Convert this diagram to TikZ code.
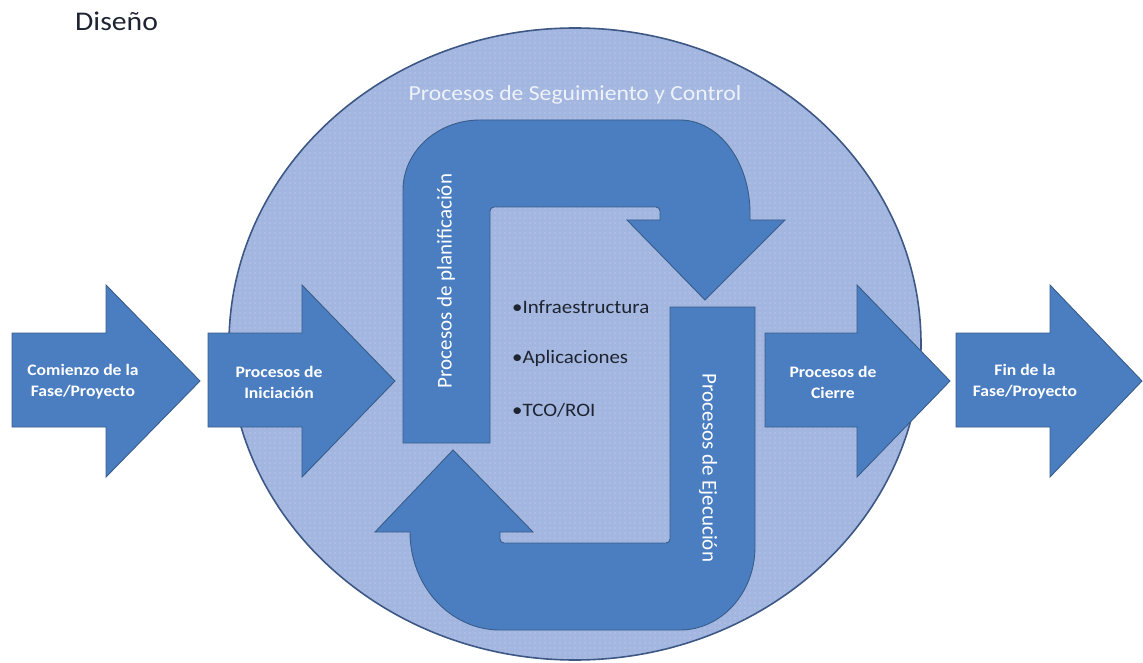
\documentclass[tikz,border=0pt]{standalone}
\usepackage{fontspec}
\setmainfont{Carlito}
\usetikzlibrary{patterns.meta}

\definecolor{shapeblue}{HTML}{4A7EC1}
\definecolor{shapeedge}{HTML}{385D8A}
\definecolor{ringfill}{HTML}{A3B6E0}
\definecolor{ringedge}{HTML}{3E5886}
\definecolor{darktext}{HTML}{1E2430}
\definecolor{softwhite}{HTML}{EEF2FA}

% slightly widened lettering
\newcommand\widen[1]{\scalebox{1.1}[1]{#1}}

% fine dotted texture of the control ring
\tikzdeclarepattern{
  name=softdots,
  type=uncolored,
  bottom left={(-.7pt,-.7pt)},
  top right={(.7pt,.7pt)},
  tile size={(5pt,5pt)},
  code={\fill (0pt,0pt) circle[radius=0.65pt];}
}

\tikzset{
  blockshape/.style={fill=shapeblue, draw=shapeedge, line width=0.9pt, line join=miter},
  arrowlabel/.style={text=white, font=\bfseries\fontsize{16}{21}\selectfont, align=center, inner sep=0pt},
  bandlabel/.style={text=white, font=\fontsize{21}{25}\selectfont, inner sep=0pt},
  bulletitem/.style={text=darktext, font=\fontsize{19}{23}\selectfont, anchor=west, inner sep=0pt},
}

% block arrow pointing right: left edge #1, head base #2, tip #3
\newcommand\blockarrow[3]{%
  \draw[blockshape] (#1,333) -- (#2,333) -- (#2,285) -- (#3,381) -- (#2,477) -- (#2,427) -- (#1,427) -- cycle;}

\begin{document}
\begin{tikzpicture}[x=1pt, y=-1pt]
\useasboundingbox (0,0) rectangle (1143,663);

% control ring
\path[fill=ringfill] (575,344) ellipse[x radius=346, y radius=316];
\path[pattern=softdots, pattern color=white, fill opacity=0.45] (575,344) ellipse[x radius=346, y radius=316];
\draw[ringedge, line width=1.6pt] (575,344) ellipse[x radius=346, y radius=316];

% heading
\node[text=darktext, font=\fontsize{27}{32}\selectfont, anchor=west, inner sep=0pt] (title) at (75,21) {\widen{Diseño}};

\node[text=softwhite, font=\fontsize{21.5}{26}\selectfont, inner sep=0pt] (control) at (575,95) {\widen{Procesos de Seguimiento y Control}};

% block arrows of the phase
\blockarrow{12}{106}{200}
\blockarrow{208}{302}{395}
\blockarrow{765}{857}{950}
\blockarrow{956}{1050}{1142}

\node[arrowlabel] (start) at (83,382) {\widen{Comienzo de la}\\\widen{Fase/Proyecto}};
\node[arrowlabel] (init) at (279,382) {\widen{Procesos de}\\\widen{Iniciación}};
\node[arrowlabel] (close) at (833,382) {\widen{Procesos de}\\\widen{Cierre}};
\node[arrowlabel] (finish) at (1025,382) {\widen{Fin de la}\\\widen{Fase/Proyecto}};

% planning u-turn, heading down
\draw[blockshape] (403,443) -- (403,190)
  arc[start angle=180, end angle=270, x radius=77, y radius=70]
  -- (680,120)
  arc[start angle=270, end angle=360, x radius=70, y radius=93]
  -- (750,220) -- (785,220) -- (705,300) -- (627,220) -- (660,220)
  -- (660,211) arc[start angle=0, end angle=-90, radius=4] -- (494,207)
  arc[start angle=270, end angle=180, radius=4] -- (490,443) -- cycle;

% execution u-turn, heading up
\draw[blockshape] (670,307) -- (755,307) -- (755,547)
  arc[start angle=0, end angle=90, x radius=75, y radius=83]
  -- (500,630)
  arc[start angle=90, end angle=180, x radius=90, y radius=98]
  -- (375,532) -- (453,450) -- (533,532) -- (500,532)
  -- (500,539) arc[start angle=180, end angle=90, radius=4] -- (666,543)
  arc[start angle=90, end angle=0, radius=4] -- (670,307) -- cycle;

\node[bandlabel, rotate=90] (plan) at (446,281) {Procesos de planificación};
\node[bandlabel, rotate=-90] (exec) at (708,468) {Procesos de Ejecución};

% planning topics
\node[bulletitem] (infra) at (512,307) {\widen{•Infraestructura}};
\node[bulletitem] (apps) at (512,358) {\widen{•Aplicaciones}};
\node[bulletitem] (tco) at (512,410) {\widen{•TCO/ROI}};
\end{tikzpicture}
\end{document}
